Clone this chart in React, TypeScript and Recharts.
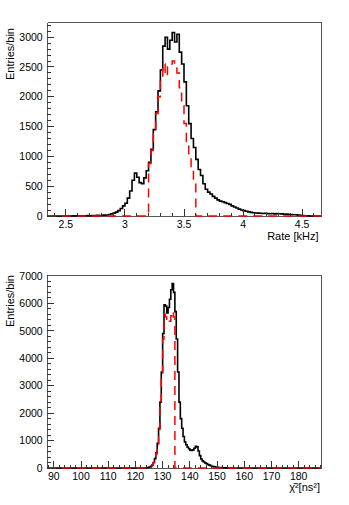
import { ComposedChart, Line, XAxis, YAxis } from "recharts"

const FONT = '"Liberation Sans", Arial, Helvetica, sans-serif'

// rate histogram: 0.02 kHz bins, lower edges from 2.34 to 4.64
const rateStart = 2.34
const rateWidth = 0.02
const rateEnd = 4.66
const rateAll = [
  0, 0, 0, 0, 0, 0, 0, 0, 0, 2,
  0, 3, 2, 4, 3, 5, 4, 6, 5, 8,
  7, 10, 9, 12, 14, 18, 25, 35, 48, 65,
  90, 125, 170, 215, 300, 420, 600, 720, 650, 560,
  540, 640, 760, 900, 1120, 1450, 1750, 2100, 2450, 2850,
  3000, 2800, 2950, 3080, 2920, 3050, 2750, 2550, 2250, 1850,
  1550, 1300, 1150, 950, 780, 680, 540, 450, 400, 370,
  330, 300, 270, 250, 240, 225, 210, 195, 170, 150,
  135, 115, 100, 90, 80, 70, 60, 55, 50, 48,
  45, 42, 46, 40, 38, 42, 36, 40, 38, 35,
  30, 32, 28, 25, 22, 20, 15, 10, 6, 3,
  2, 0, 0, 0, 0, 0,
]
// selected (red dashed) part, same bins, first edge 3.20
const rateSelStart = 3.2
const rateSel = [
  880, 1100, 1420, 1720, 2000, 2300, 2550, 2350, 2500, 2550,
  2600, 2480, 2400, 2150, 1850, 1550, 1250, 1000, 800, 550,
]
const rateXMajor = [2.5, 3, 3.5, 4, 4.5]
const rateXLabels = ["2.5", "3", "3.5", "4", "4.5"]
const rateYMajor = [0, 500, 1000, 1500, 2000, 2500, 3000]
const rateYLabels = ["0", "500", "1000", "1500", "2000", "2500", "3000"]

// chi2 histogram: 0.5 ns^2 bins, lower edges from 120.0 to 159.5
const chiStart = 120
const chiWidth = 0.5
const chiMin = 87.5
const chiMax = 188.2
const chiAll = [
  0, 0, 0, 0, 0, 2, 3, 5, 10, 18,
  35, 60, 110, 200, 340, 550, 900, 1450, 2400, 3500,
  4900, 5950, 5900, 5650, 5850, 6150, 6500, 6720, 6400, 5700,
  4700, 3500, 2400, 1800, 1450, 1150, 950, 850, 760, 700,
  650, 640, 660, 720, 790, 770, 620, 450, 330, 260,
  220, 185, 160, 130, 105, 85, 65, 50, 40, 30,
  25, 20, 15, 12, 10, 8, 6, 5, 4, 3,
  2, 2, 1, 1, 0, 0, 0, 0, 0, 0,
]
const chiSelStart = 125
const chiSel = [
  30, 55, 100, 190, 320, 520, 860, 1400, 2300, 3400,
  4700, 5600, 5500, 5350, 5400, 5350, 5550, 5700, 5500,
]
const chiXMajor = [90, 100, 110, 120, 130, 140, 150, 160, 170, 180]
const chiXLabels = ["90", "100", "110", "120", "130", "140", "150", "160", "170", "180"]
const chiYMajor = [0, 1000, 2000, 3000, 4000, 5000, 6000, 7000]
const chiYLabels = ["0", "1000", "2000", "3000", "4000", "5000", "6000", "7000"]

const round = (v: number) => Math.round(v * 1000) / 1000

function steps(from: number, to: number, step: number) {
  const out: number[] = []
  for (let v = from; v <= to + 1e-9; v += step) out.push(round(v))
  return out
}

function buildRows(start: number, width: number, all: number[], selStart: number, sel: number[]) {
  return all.map((v, i) => {
    const x = round(start + i * width)
    const j = Math.round((x - selStart) / width)
    return { x, all: v, sel: j >= 0 && j < sel.length ? sel[j] : 0 }
  })
}

const rateRows = [
  ...buildRows(rateStart, rateWidth, rateAll, rateSelStart, rateSel),
  { x: rateEnd, all: 0, sel: 0 },
]
const chiRows = [
  { x: chiMin, all: 0, sel: 0 },
  ...buildRows(chiStart, chiWidth, chiAll, chiSelStart, chiSel),
  { x: round(chiStart + chiAll.length * chiWidth), all: 0, sel: 0 },
  { x: chiMax, all: 0, sel: 0 },
]

// layout
const W = 349
const H = 505
const AXIS_W = 47
const M_RIGHT = 28
const M_TOP = 22
const TOP_H = 250
const TOP_XH = 34
const BOT_Y = 253
const BOT_H = 252
const BOT_XH = 37
const FRAME = "#555"

const idx = (list: number[], v: number) => list.findIndex((t) => Math.abs(t - v) < 1e-6)

function xTick(major: number[], labels: string[]) {
  return (p: any) => {
    const i = idx(major, p.payload.value)
    return (
      <g>
        <line x1={p.x} x2={p.x} y1={p.y} y2={p.y - (i >= 0 ? 7 : 3.5)} stroke="#333" shapeRendering="crispEdges" />
        {i >= 0 && (
          <text x={p.x} y={p.y + 11.5} textAnchor="middle" fontSize={10.5} fontFamily={FONT} fill="#000">
            {labels[i]}
          </text>
        )}
      </g>
    )
  }
}

function yTick(major: number[], labels: string[]) {
  return (p: any) => {
    const i = idx(major, p.payload.value)
    return (
      <g>
        <line x1={p.x} x2={p.x + (i >= 0 ? 7 : 3.5)} y1={p.y} y2={p.y} stroke="#333" shapeRendering="crispEdges" />
        {i >= 0 && (
          <text x={p.x - 4.3} y={p.y + 3.7} textAnchor="end" fontSize={10.5} fontFamily={FONT} fill="#000">
            {labels[i]}
          </text>
        )}
      </g>
    )
  }
}

type PanelProps = {
  rows: { x: number; all: number; sel: number }[]
  xDomain: [number, number]
  yDomain: [number, number]
  xTicks: number[]
  yTicks: number[]
  xMajor: number[]
  xLabels: string[]
  yMajor: number[]
  yLabels: string[]
  height: number
  xAxisHeight: number
}

function Panel(props: PanelProps) {
  const { rows, xDomain, yDomain } = props
  return (
    <ComposedChart width={W} height={props.height} data={rows} margin={{ top: M_TOP, right: M_RIGHT, bottom: 0, left: 0 }}>
      <XAxis
        type="number"
        dataKey="x"
        domain={xDomain}
        ticks={props.xTicks}
        interval={0}
        tickSize={0}
        tickMargin={0}
        axisLine={false}
        tickLine={false}
        height={props.xAxisHeight}
        tick={xTick(props.xMajor, props.xLabels)}
      />
      <YAxis
        type="number"
        domain={yDomain}
        ticks={props.yTicks}
        interval={0}
        tickSize={0}
        tickMargin={0}
        axisLine={false}
        tickLine={false}
        width={AXIS_W}
        tick={yTick(props.yMajor, props.yLabels)}
      />
      <Line type="stepAfter" dataKey="all" stroke="#000" strokeWidth={1.6} dot={false} isAnimationActive={false} />
      <Line
        type="stepAfter"
        dataKey="sel"
        stroke="#ff0000"
        strokeWidth={1.5}
        strokeDasharray="9 6"
        dot={false}
        isAnimationActive={false}
      />
    </ComposedChart>
  )
}

// frame edges of a plot area; top/right go over the chart, left/bottom under it
function frameEdges(top: number, height: number, xh: number, which: "under" | "over") {
  const x0 = AXIS_W + 0.5
  const x1 = W - M_RIGHT + 0.5
  const y0 = top + M_TOP + 0.5
  const y1 = top + height - xh + 0.5
  const style = { stroke: FRAME, strokeWidth: 1, shapeRendering: "crispEdges" as const }
  return which === "under" ? (
    <g>
      <line x1={x0} x2={x1} y1={y1} y2={y1} {...style} />
      <line x1={x0} x2={x0} y1={y0} y2={y1} {...style} />
    </g>
  ) : (
    <g>
      <line x1={x0} x2={x1} y1={y0} y2={y0} {...style} />
      <line x1={x1} x2={x1} y1={y0} y2={y1} {...style} />
    </g>
  )
}

export default function App() {
  const title = { fontSize: 11, fontFamily: FONT, fill: "#000" }
  return (
    <div style={{ position: "absolute", left: 0, top: 0, width: W, height: H, background: "#fff" }}>
      <svg width={W} height={H} style={{ position: "absolute", left: 0, top: 0 }}>
        {frameEdges(0, TOP_H, TOP_XH, "under")}
        {frameEdges(BOT_Y, BOT_H, BOT_XH, "under")}
      </svg>
      <div style={{ position: "absolute", left: 0, top: 0 }}>
        <Panel
          rows={rateRows}
          xDomain={[rateStart, rateEnd]}
          yDomain={[0, 3255]}
          xTicks={steps(2.4, 4.6, 0.1)}
          yTicks={steps(0, 3200, 100)}
          xMajor={rateXMajor}
          xLabels={rateXLabels}
          yMajor={rateYMajor}
          yLabels={rateYLabels}
          height={TOP_H}
          xAxisHeight={TOP_XH}
        />
      </div>
      <div style={{ position: "absolute", left: 0, top: BOT_Y }}>
        <Panel
          rows={chiRows}
          xDomain={[chiMin, chiMax]}
          yDomain={[0, 7035]}
          xTicks={steps(88, 188, 2)}
          yTicks={steps(0, 7000, 200)}
          xMajor={chiXMajor}
          xLabels={chiXLabels}
          yMajor={chiYMajor}
          yLabels={chiYLabels}
          height={BOT_H}
          xAxisHeight={BOT_XH}
        />
      </div>
      <svg width={W} height={H} style={{ position: "absolute", left: 0, top: 0, pointerEvents: "none" }}>
        {frameEdges(0, TOP_H, TOP_XH, "over")}
        {frameEdges(BOT_Y, BOT_H, BOT_XH, "over")}
        <text transform="translate(14,28) rotate(-90)" textAnchor="end" {...title}>
          Entries/bin
        </text>
        <text x={318.5} y={239.5} textAnchor="end" {...title}>
          Rate [kHz]
        </text>
        <text transform="translate(14,275) rotate(-90)" textAnchor="end" {...title}>
          Entries/bin
        </text>
        <text x={320} y={491} textAnchor="end" {...title}>
          χ̄²[ns²]
        </text>
      </svg>
    </div>
  )
}
